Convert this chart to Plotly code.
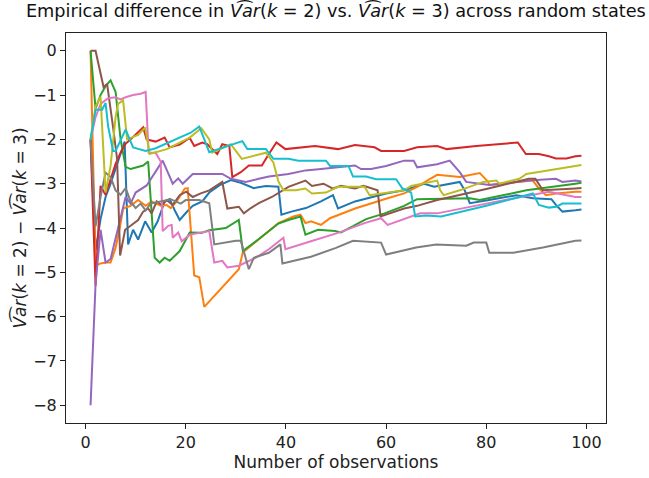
import plotly.graph_objects as go

# Running difference between the two variance estimates, one series per random state.
# Each series: observation counts and the corresponding difference values.
blue_x = [1, 2, 3, 4, 5, 6, 7, 7.8, 8.5, 9.5, 10.5, 11.9, 13.2, 14.4, 15.8, 16.8, 17.8, 18.8, 20.1, 21.4, 23.3, 24.7, 26.7, 29, 31, 33.6, 36, 38.5, 39.1, 41.1, 44, 47, 49.4, 50.4, 53.8, 57, 60, 63.6, 67.6, 69.6, 74.7, 75.7, 76.7, 80, 86, 89.3, 93, 93.9, 95.2, 97.8, 99]
blue_y = [-2.0, -4.5, -3.8, -3.3, -3.0, -2.65, -2.35, -2.05, -4.37, -4.04, -4.26, -3.85, -4.1, -3.85, -3.4, -3.35, -3.6, -3.82, -3.65, -3.5, -3.4, -3.2, -3.04, -2.92, -2.98, -3.1, -3.05, -3.07, -3.7, -3.63, -3.55, -3.4, -3.26, -3.56, -3.4, -3.3, -3.22, -3.15, -3.0, -3.07, -2.96, -3.15, -3.44, -3.38, -3.26, -3.33, -3.35, -3.48, -3.63, -3.6, -3.58]

orange_x = [1, 2, 3, 4, 5, 6, 7, 7.5, 9, 10.5, 12, 13.2, 15, 16.2, 17, 18.2, 19.8, 20.4, 21.7, 22.7, 23.7, 30.6, 31.4, 34.6, 38.5, 41.5, 42.9, 43.9, 45, 47, 48.8, 53.8, 57, 60.3, 63.6, 66.2, 68.8, 70.2, 74.7, 78.7, 80.4, 80.6, 89.3, 90.5, 91.9, 93.9, 97.8, 99]
orange_y = [0.0, -4.85, -4.8, -4.78, -4.78, -4.45, -3.9, -3.56, -3.5, -3.37, -3.5, -3.4, -3.5, -3.48, -3.55, -3.4, -3.11, -3.1, -5.07, -5.11, -5.78, -4.93, -4.55, -4.25, -3.89, -3.74, -3.7, -3.89, -3.85, -3.93, -3.78, -3.56, -3.44, -3.33, -3.22, -3.07, -2.89, -2.8, -2.85, -2.76, -2.96, -3.03, -2.93, -3.11, -3.26, -3.22, -3.18, -3.18]

green_x = [1, 2, 3, 4, 5, 6, 7, 8, 9, 11.5, 12.5, 13.8, 14.8, 15.8, 16.8, 18.8, 20.8, 22, 23.1, 24.7, 28, 30.6, 31.4, 34.6, 38.5, 40.5, 42.9, 43.9, 46.4, 49.8, 51, 53.4, 56, 59.7, 63.6, 66.2, 74.7, 76.7, 78.7, 88, 97.8, 99]
green_y = [0.0, -1.3, -1.0, -0.8, -0.67, -0.93, -2.0, -2.62, -2.67, -2.59, -2.5, -4.67, -4.78, -4.67, -4.74, -4.52, -4.1, -4.1, -4.11, -4.05, -4.0, -3.82, -4.52, -4.25, -3.9, -3.82, -3.74, -4.15, -4.04, -4.07, -4.1, -3.96, -3.8, -3.67, -3.5, -3.35, -3.33, -3.33, -3.37, -3.15, -3.0, -2.98]

red_x = [1, 2, 3, 4, 5, 6, 7, 8, 9, 10, 11.5, 12.2, 14, 15.8, 16.8, 18.8, 20.8, 21.7, 23.3, 24.3, 26.3, 27.3, 28.7, 29.3, 31, 32.6, 35.2, 36.6, 38.1, 39.9, 43.9, 45.8, 50.4, 53.8, 57.7, 59, 63.6, 66.2, 70.2, 72.1, 78, 85.4, 86.3, 87.9, 90.5, 92.5, 93.9, 96, 97.8, 99]
red_y = [-2.0, -5.3, -3.05, -3.25, -2.9, -2.55, -2.3, -2.1, -2.0, -1.9, -1.73, -2.0, -2.05, -1.96, -2.18, -2.12, -1.97, -2.15, -2.07, -2.11, -2.33, -2.11, -2.15, -2.85, -2.74, -2.59, -2.59, -2.33, -2.07, -2.22, -2.18, -2.15, -2.22, -2.13, -2.18, -2.26, -2.26, -2.18, -2.15, -2.22, -2.15, -2.07, -2.07, -2.33, -2.33, -2.38, -2.43, -2.43, -2.38, -2.37]

purple_x = [1, 2, 3, 4, 5, 6, 7, 8, 9, 10, 12.2, 14.8, 15.4, 16.8, 17.4, 18.5, 19.4, 21.4, 27.3, 29, 32, 34.6, 36.6, 40.5, 43.9, 47, 50.4, 53.8, 55, 57, 60, 63.6, 65.5, 66.2, 70.2, 72.7, 74.7, 76, 80.6, 88.5, 93.9, 95.2, 97.8, 99]
purple_y = [-8.0, -5.27, -4.04, -4.78, -4.7, -4.25, -3.8, -3.3, -3.45, -3.2, -3.04, -2.6, -2.48, -2.84, -3.0, -2.88, -3.0, -2.78, -2.78, -2.89, -2.96, -2.89, -2.84, -2.78, -2.7, -2.67, -2.63, -2.59, -2.67, -2.67, -2.6, -2.48, -2.48, -2.63, -2.56, -2.48, -2.74, -2.96, -3.03, -2.93, -2.89, -2.96, -2.93, -2.95]

brown_x = [1, 2, 3.6, 4.3, 5.5, 6.3, 6.9, 7.9, 9, 10.5, 11.5, 12.5, 13.2, 14.2, 15.2, 16.2, 17.4, 18.8, 20.1, 21.4, 23, 24.7, 27.3, 28.3, 30.6, 31.6, 33, 34.6, 37.2, 40.5, 43.9, 45.2, 47.5, 49.4, 51, 53.8, 55.5, 58.3, 58.9, 63.6, 66.2, 70.2, 80, 88.5, 89.8, 91.3, 97.8, 99]
brown_y = [0.0, 0.0, -0.82, -0.75, -1.73, -2.44, -4.62, -4.04, -3.95, -3.82, -3.63, -3.56, -3.67, -3.4, -3.48, -3.37, -3.48, -3.26, -3.18, -3.3, -3.22, -3.15, -2.96, -3.56, -3.52, -3.67, -3.55, -3.44, -3.3, -3.07, -2.93, -3.05, -3.0, -3.11, -3.05, -3.11, -3.05, -3.15, -3.74, -3.56, -3.5, -3.37, -3.12, -2.89, -2.89, -3.15, -3.11, -3.1]

pink_x = [1, 2, 3, 4.5, 6, 7, 8, 9.5, 11, 12, 12.6, 14, 15, 15.4, 16.5, 17.2, 17.4, 18.5, 19.2, 20.8, 22.7, 24.7, 25.7, 27.3, 28.3, 30.6, 34, 36.6, 39.5, 39.9, 45, 50.4, 55.7, 59, 60.3, 63, 66.8, 70.2, 72.1, 80, 92.5, 97.8, 99]
pink_y = [-2.0, -1.5, -1.2, -1.07, -1.05, -1.1, -1.05, -1.0, -0.97, -0.93, -2.3, -2.3, -2.5, -4.07, -3.95, -3.93, -4.22, -4.1, -4.3, -4.15, -4.11, -4.07, -4.78, -4.74, -4.89, -4.85, -4.67, -4.48, -4.22, -4.48, -4.3, -4.11, -3.89, -3.78, -3.93, -3.82, -3.67, -3.67, -3.63, -3.45, -3.18, -3.3, -3.3]

gray_x = [1, 2, 3, 4, 5, 6, 7, 8, 9, 10, 11, 12, 13, 15, 17, 19, 20, 22.7, 24.7, 25.7, 30, 31, 32.6, 33.6, 36.6, 38.9, 39.3, 45, 50, 53.4, 59, 60, 66, 70, 76, 77.5, 80, 80.6, 85.4, 91.3, 97.8, 99]
gray_y = [-2.0, -3.96, -3.3, -2.75, -2.85, -3.15, -3.25, -3.1, -3.4, -3.55, -3.45, -3.6, -3.45, -3.4, -3.35, -3.45, -3.37, -3.37, -3.44, -4.37, -4.29, -4.29, -4.93, -4.67, -4.56, -4.37, -4.8, -4.65, -4.45, -4.29, -4.33, -4.6, -4.44, -4.37, -4.4, -4.33, -4.33, -4.56, -4.56, -4.44, -4.29, -4.28]

olive_x = [1, 2, 3, 4, 5, 6, 6.5, 7.5, 8.3, 10.5, 11.9, 12.8, 16.2, 20.8, 23.1, 24.7, 25.3, 29, 31.2, 34.6, 36, 37.5, 38.5, 39.5, 42, 43.9, 45.2, 48, 50.4, 55.7, 56.7, 63.6, 65, 70.2, 70.8, 71.5, 74.7, 79.4, 82, 82.6, 86.6, 88, 97.8, 99]
olive_y = [-2.0, -1.26, -1.04, -3.2, -2.6, -1.5, -1.2, -1.12, -2.0, -1.9, -1.73, -2.33, -2.22, -1.96, -1.75, -2.0, -2.3, -2.11, -2.44, -2.33, -2.3, -2.52, -2.95, -3.15, -3.15, -3.11, -3.22, -3.2, -3.07, -3.07, -3.26, -3.15, -3.05, -2.93, -3.15, -3.26, -3.15, -2.96, -2.93, -3.0, -2.89, -2.78, -2.6, -2.58]

cyan_x = [1, 2, 3.3, 4, 4.5, 5.5, 6, 8, 9.5, 12, 14, 18, 21, 22.7, 23.7, 24.7, 31.3, 32.3, 36, 37.5, 40.5, 42.5, 48, 48.8, 52.5, 53.4, 56, 58, 62, 63.2, 65, 65.8, 68, 71, 80, 89.3, 90.5, 92.5, 94, 95.2, 99]
cyan_y = [-2.0, -1.33, -1.33, -1.18, -1.7, -2.26, -2.26, -1.78, -2.18, -2.26, -2.2, -2.0, -1.85, -1.71, -2.0, -2.29, -2.04, -2.22, -2.22, -2.44, -2.44, -2.48, -2.48, -2.6, -2.6, -2.84, -2.84, -2.9, -2.9, -3.1, -3.2, -3.74, -3.72, -3.74, -3.5, -3.22, -3.48, -3.54, -3.52, -3.45, -3.45]

x_tick_values = [0, 20, 40, 60, 80, 100]
y_tick_values = [0, -1, -2, -3, -4, -5, -6, -7, -8]

series = [
    (blue_x, blue_y, "#1f77b4"),
    (orange_x, orange_y, "#ff7f0e"),
    (green_x, green_y, "#2ca02c"),
    (red_x, red_y, "#d62728"),
    (purple_x, purple_y, "#9467bd"),
    (brown_x, brown_y, "#8c564b"),
    (pink_x, pink_y, "#e377c2"),
    (gray_x, gray_y, "#7f7f7f"),
    (olive_x, olive_y, "#bcbd22"),
    (cyan_x, cyan_y, "#17becf"),
]

fig = go.Figure()
for xs, ys, color in series:
    fig.add_trace(go.Scatter(x=xs, y=ys, mode="lines",
                             line=dict(color=color, width=2),
                             showlegend=False, hoverinfo="skip"))

FONT = "DejaVu Sans"
var_hat = "<i>V\u0361ar</i>"

fig.update_layout(
    width=649, height=478,
    margin=dict(l=66, r=43, t=33, b=51),
    paper_bgcolor="white", plot_bgcolor="white",
    font=dict(family=FONT, size=16, color="black"),
    title=dict(
        text=f"Empirical difference in {var_hat}(<i>k</i> = 2) vs. {var_hat}(<i>k</i> = 3) across random states",
        x=0.5175, xanchor="center", y=0.99, yanchor="top",
        font=dict(family=FONT, size=17.7, color="#111"),
    ),
)

axis_common = dict(
    showline=True, linecolor="#222", linewidth=1, mirror=True,
    ticks="outside", ticklen=5, tickwidth=1, tickcolor="#222",
    showgrid=False, zeroline=False,
    tickfont=dict(family=FONT, size=16, color="#222"),
)

fig.update_xaxes(range=[-3.9, 103.9], tickvals=x_tick_values,
                 title=dict(text="Number of observations", standoff=2,
                            font=dict(family=FONT, size=17, color="#222")),
                 **axis_common)
fig.update_yaxes(range=[-8.4, 0.4], tickvals=y_tick_values,
                 title=dict(text=f"{var_hat}(<i>k</i> = 2) \u2212 {var_hat}(<i>k</i> = 3)", standoff=2,
                            font=dict(family=FONT, size=17, color="#222")),
                 **axis_common)

fig.write_html("out.html")
